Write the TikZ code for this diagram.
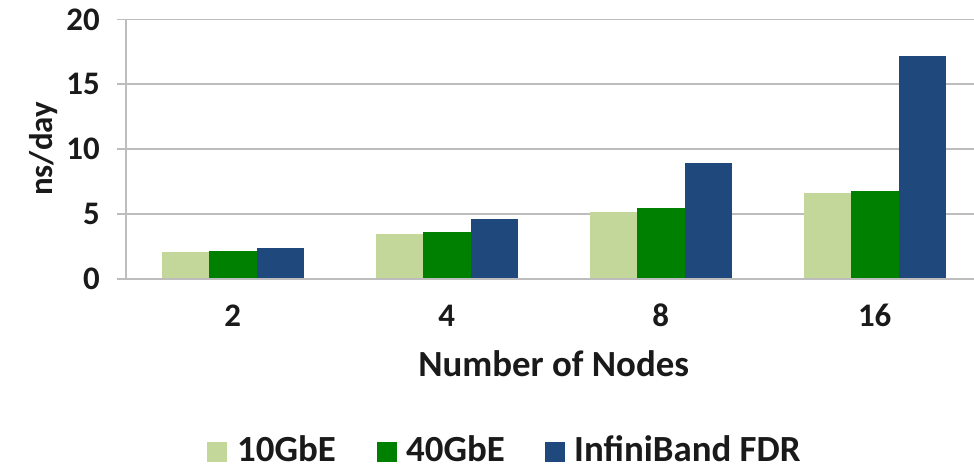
\documentclass[tikz,border=0pt]{standalone}
\usepackage{fontspec}
\setmainfont{Carlito}
\definecolor{tenG}{HTML}{C4D79B}
\definecolor{fortyG}{HTML}{008000}
\definecolor{ibfdr}{HTML}{1F497D}
\definecolor{gridgray}{HTML}{BDBDBD}
\definecolor{labeltext}{HTML}{1A1A1A}
\begin{document}
\begin{tikzpicture}[x=1bp,y=-1bp,
  gridline/.style={draw=gridgray,line width=1.8bp},
  ticklabel/.style={inner sep=0pt,text=labeltext,font=\fontsize{33}{33}\selectfont\bfseries},
  axistitle/.style={inner sep=0pt,text=labeltext,font=\fontsize{37}{37}\selectfont\bfseries},
  legendtext/.style={inner sep=0pt,text depth=0pt,anchor=base west,text=labeltext,font=\fontsize{37}{37}\selectfont\bfseries},
  bar/.style={draw=none}]
\useasboundingbox[fill=white] (0,0) rectangle (974,468);
% value axis: 0 at y=279, 12.975 bp per ns/day
\def\yzero{279}
\def\yunit{12.975}
% horizontal gridlines and tick labels
\foreach \v in {5,10,15,20}{
  \draw[gridline] (117,{\yzero-\v*\yunit}) -- (974,{\yzero-\v*\yunit});
}
\foreach \v/\nm in {0/zero,5/five,10/ten,15/fifteen,20/twenty}{
  \node[ticklabel,anchor=east] (y\nm) at (100,{\yzero-\v*\yunit}) {\v};
}
% bars: four categories of width 214, bars 47.5 wide
\foreach \i/\a/\b/\c in {0/2.06/2.18/2.41, 1/3.44/3.60/4.60, 2/5.16/5.45/8.92, 3/6.60/6.76/17.19}{
  \pgfmathsetmacro{\xl}{125.7+214*\i+36}
  \fill[tenG]   (\xl,\yzero) rectangle ({\xl+47.5},{\yzero-\a*\yunit});
  \fill[fortyG] ({\xl+47.5},\yzero) rectangle ({\xl+95},{\yzero-\b*\yunit});
  \fill[ibfdr]  ({\xl+95},\yzero) rectangle ({\xl+142.5},{\yzero-\c*\yunit});
}
% axes
\draw[gridline] (117,\yzero) -- (974,\yzero);
\draw[gridline] (125.7,{\yzero-20*\yunit}) -- (125.7,\yzero);
% category labels
\foreach \i/\lab in {0/2,1/4,2/8,3/16}{
  \node[ticklabel,anchor=base] (x\lab) at ({125.7+214*\i+107},326.7) {\lab};
}
% axis titles
\node[axistitle,anchor=base] (xtitle) at (553.7,376.7) {Number of Nodes};
\node[ticklabel,anchor=base,rotate=90] (ytitle) at (52,149) {ns/day};
% legend
\fill[tenG]   (206.7,441.7) rectangle (227.3,461.7);
\node[legendtext] (leg10) at (237,461.7) {10GbE};
\fill[fortyG] (376.7,441.7) rectangle (396.7,461.7);
\node[legendtext] (leg40) at (406,461.7) {40GbE};
\fill[ibfdr]  (545,441.7) rectangle (565,461.7);
\node[legendtext] (legib) at (574,461.7) {InfiniBand FDR};
\end{tikzpicture}
\end{document}
